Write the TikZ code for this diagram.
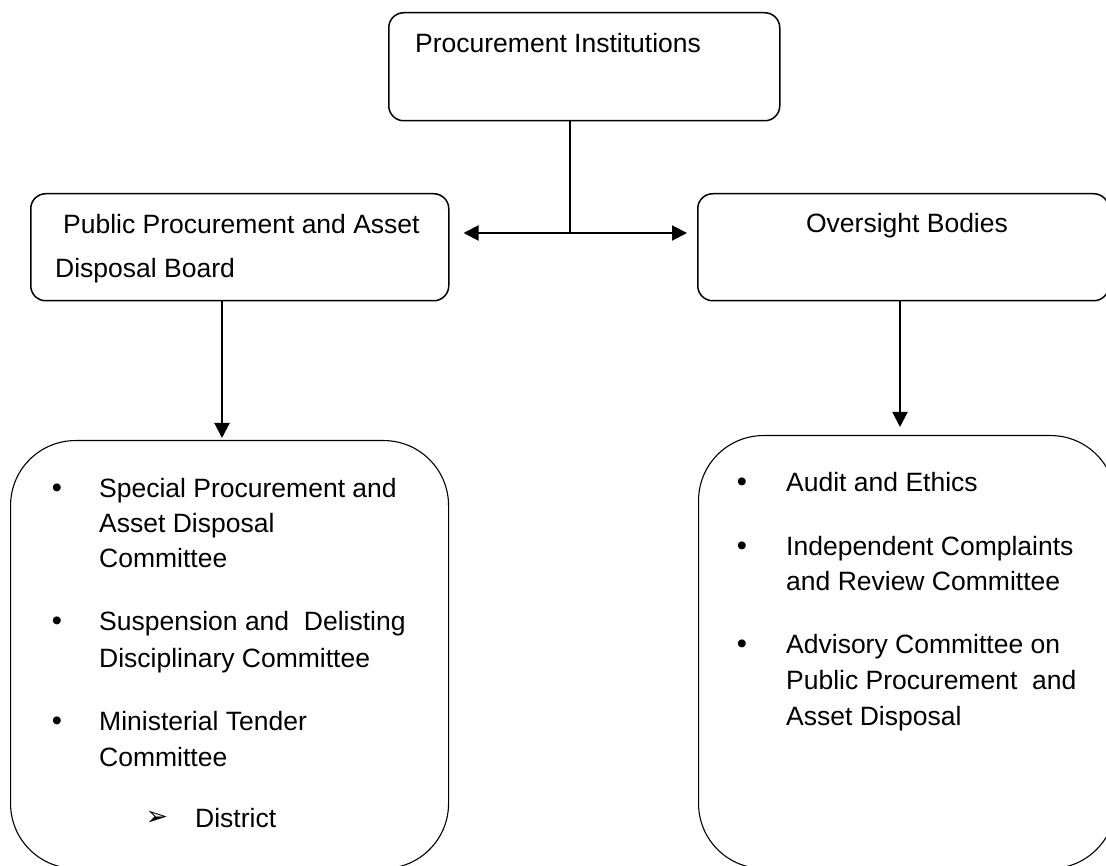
\documentclass[tikz,border=0pt]{standalone}
\usepackage{fontspec}
\setmainfont{Liberation Sans}
\newfontfamily\symfont{DejaVu Sans}
\usetikzlibrary{arrows.meta}

\tikzset{
  headbox/.style={draw, line width=1.5pt, rounded corners=15pt, anchor=north west, inner sep=0pt},
  listbox/.style={draw, line width=1.1pt, rounded corners=65pt, anchor=north west, inner sep=0pt},
  label/.style={anchor=base west, inner sep=0pt, font=\fontsize{26.5}{32}\selectfont},
  clabel/.style={anchor=base, inner sep=0pt, font=\fontsize{26.5}{32}\selectfont},
  dot/.style={anchor=base, inner sep=0pt, font=\fontsize{29}{32}\selectfont},
  pointer/.style={anchor=center, inner sep=0pt, font=\symfont\fontsize{27}{30}\selectfont},
  link/.style={line width=1.2pt},
  flow/.style={line width=2pt, -{Triangle[length=15pt,width=15pt]}},
}

\begin{document}
\begin{tikzpicture}[x=1pt, y=-1pt]
  \clip (0,0) rectangle (1106,866);
  \fill[white] (0,0) rectangle (1106,866);

  % header boxes
  \node[headbox, minimum width=391pt, minimum height=108pt] (inst) at (388,12) {};
  \node[headbox, minimum width=418pt, minimum height=107pt] (board) at (30,193) {};
  \node[headbox, minimum width=411pt, minimum height=107pt] (over) at (697,193) {};

  % list boxes
  \node[listbox, minimum width=438pt, minimum height=428pt] (boardlist) at (10,440) {};
  \node[listbox, minimum width=417pt, minimum height=433pt] (overlist) at (698,435) {};

  % header texts
  \node[label] (instT) at (415,53) {Procurement Institutions};
  \node[label] (boardT1) at (63,234) {Public Procurement and Asset};
  \node[label] (boardT2) at (55,278) {Disposal Board};
  \node[clabel] (overT) at (907,233) {Oversight Bodies};

  % connectors between the header boxes
  \coordinate (split) at (570,233);
  \draw[link] (split) -- (split |- inst.south);
  \draw[flow] (split) -- ([xshift=14pt]split -| board.east);
  \draw[flow] (split) -- ([xshift=-10pt]split -| over.west);

  % downward connectors
  \coordinate (bdrop) at (222,300);
  \coordinate (odrop) at (900,300);
  \draw[flow, shorten >=2pt] (bdrop) -- (bdrop |- boardlist.north);
  \draw[flow, shorten >=8pt] (odrop) -- (odrop |- overlist.north);

  % left list
  \node[dot] (b1) at (57,497) {•};
  \node[label] (s1) at (99,497) {Special Procurement and};
  \node[label] (s2) at (99,532) {Asset Disposal};
  \node[label] (s3) at (99,567) {Committee};
  \node[dot] (b2) at (57,630) {•};
  \node[label] (d1) at (99,630) {Suspension and~ Delisting};
  \node[label] (d2) at (99,667) {Disciplinary Committee};
  \node[dot] (b3) at (57,730) {•};
  \node[label] (m1) at (99,730) {Ministerial Tender};
  \node[label] (m2) at (99,766) {Committee};
  \node[pointer] (p1) at (157,818) {➢};
  \node[label] (m3) at (195,827) {District};

  % right list
  \node[dot] (r1) at (742,491) {•};
  \node[label] (a1) at (786,491) {Audit and Ethics};
  \node[dot] (r2) at (742,555) {•};
  \node[label] (c1) at (786,555) {Independent Complaints};
  \node[label] (c2) at (786,590) {and Review Committee};
  \node[dot] (r3) at (742,653) {•};
  \node[label] (v1) at (786,653) {Advisory Committee on};
  \node[label] (v2) at (786,689) {Public Procurement~ and};
  \node[label] (v3) at (786,725) {Asset Disposal};
\end{tikzpicture}
\end{document}
